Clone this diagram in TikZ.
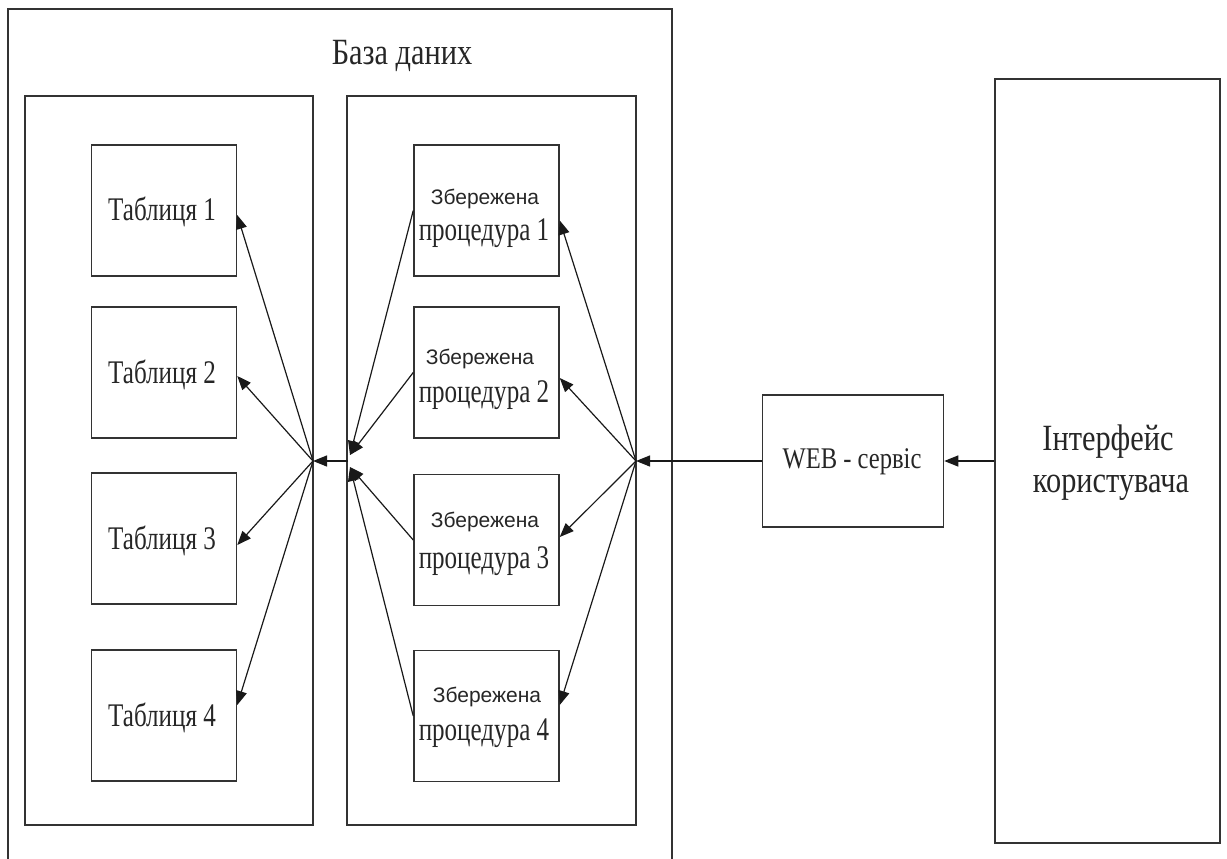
\documentclass[tikz,border=0pt]{standalone}
\usepackage{fontspec}
\setmainfont{Liberation Serif}
\newfontfamily\tnrA[FakeStretch=0.82]{Liberation Serif}
\newfontfamily\tnrB[FakeStretch=0.76]{Liberation Serif}
\newfontfamily\arialf{Liberation Sans}
\usetikzlibrary{arrows.meta,calc}
\begin{document}
\begin{tikzpicture}[x=1pt,y=-1pt,
  frame/.style={draw=black!80,line width=1.5pt},
  box/.style={draw=black!80,line width=1.5pt,minimum width=145pt,minimum height=131pt,inner sep=0pt},
  ar/.style={-{Triangle[length=14pt,width=11pt]},line width=1.2pt,draw=black!90},
  lbl/.style={anchor=base,inner sep=0pt,text=black!85},
  tabtxt/.style={lbl,font=\tnrB\fontsize{33}{40}\selectfont},
  sanstxt/.style={lbl,font=\arialf\fontsize{21}{25}\selectfont}]
\useasboundingbox (0,0) rectangle (1227,859);
% outer database frame (cut at the bottom)
\draw[frame] (8,870) -- (8,9) -- (672,9) -- (672,870);
\node[lbl,font=\tnrA\fontsize{37}{44}\selectfont] (title) at (402,65) {База даних};
% inner frames
\node[frame,minimum width=288pt,minimum height=729pt,inner sep=0pt] (L) at (169,460.5) {};
\node[frame,minimum width=289pt,minimum height=729pt,inner sep=0pt] (R) at (491.5,460.5) {};
% tables
\node[box] (T1) at (164,210.5) {};
\node[box] (T2) at (164,372.5) {};
\node[box] (T3) at (164,538.5) {};
\node[box] (T4) at (164,715.5) {};
\node[tabtxt] (t1) at (162,220) {Таблиця 1};
\node[tabtxt] (t2) at (162,383) {Таблиця 2};
\node[tabtxt] (t3) at (162,549) {Таблиця 3};
\node[tabtxt] (t4) at (162,726) {Таблиця 4};
% procedures
\node[box] (P1) at (486.5,210.5) {};
\node[box] (P2) at (486.5,372.5) {};
\node[box] (P3) at (486.5,540) {};
\node[box] (P4) at (486.5,716) {};
\node[sanstxt] (s1) at (485,204) {Збережена};
\node[tabtxt] (p1) at (484,240) {процедура 1};
\node[sanstxt] (s2) at (480,364) {Збережена};
\node[tabtxt] (p2) at (484,402) {процедура 2};
\node[sanstxt] (s3) at (485,527) {Збережена};
\node[tabtxt] (p3) at (484,568) {процедура 3};
\node[sanstxt] (s4) at (487,702) {Збережена};
\node[tabtxt] (p4) at (484,740) {процедура 4};
% web service
\node[draw=black!80,line width=1.5pt,minimum width=181pt,minimum height=132pt,inner sep=0pt] (WEB) at (853,461) {};
\node[lbl,font=\tnrA\fontsize{30}{36}\selectfont] (webt) at (852,468) {WEB - сервіс};
% user interface
\node[draw=black!80,line width=1.5pt,minimum width=225pt,minimum height=764pt,inner sep=0pt] (UI) at (1107.5,461) {};
\node[lbl,font=\tnrA\fontsize{37}{44}\selectfont] (ui1) at (1108,450) {Інтерфейс};
\node[lbl,font=\tnrA\fontsize{37}{44}\selectfont] (ui2) at (1111,492) {користувача};
% hubs
\coordinate (hL) at (313,461);
\coordinate (hM) at (348,461);
\coordinate (hMu) at (350,455);
\coordinate (hMl) at (350,467);
\coordinate (hR) at (636,461);
% connectors
\draw[ar] (UI.west) -- (WEB.east);
\draw[ar] (WEB.west) -- (hR);
\draw[ar] (hR) -- ([yshift=-10pt]P1.east);
\draw[ar] (hR) -- ([yshift=-5.5pt]P2.east);
\draw[ar] (hR) -- ([yshift=3pt]P3.east);
\draw[ar] (hR) -- ([yshift=11pt]P4.east);
\draw[ar] (P1.west) -- (hMu);
\draw[ar] (P2.west) -- (hMu);
\draw[ar] (P3.west) -- (hMl);
\draw[ar] (P4.west) -- (hMl);
\draw[ar] (hM) -- (hL);
\draw[ar] (hL) -- ([yshift=-4.5pt]T1.east);
\draw[ar] (hL) -- ([yshift=-3.5pt]T2.east);
\draw[ar] (hL) -- ([yshift=-6.5pt]T3.east);
\draw[ar] (hL) -- ([yshift=10.5pt]T4.east);
\end{tikzpicture}
\end{document}
